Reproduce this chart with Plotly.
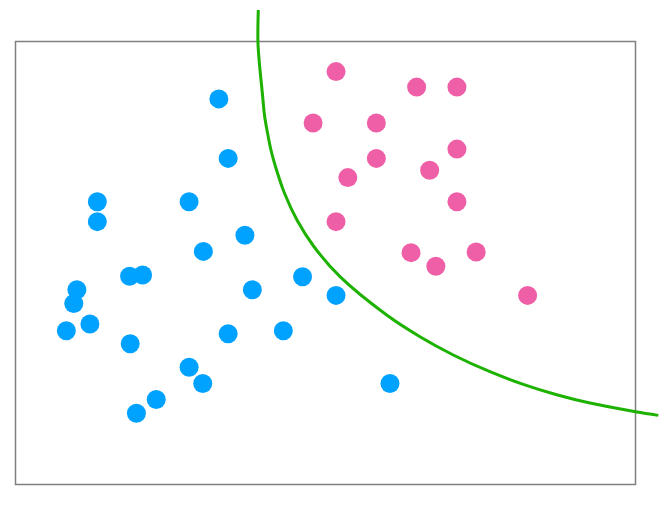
import plotly.graph_objects as go

# Blue class points
blue_x = [3.28, 3.43, 1.32, 2.80, 1.32, 3.70, 3.03, 1.84, 2.05, 0.99, 3.82, 4.63,
          0.94, 5.17, 1.20, 0.82, 3.43, 4.32, 1.85, 2.80, 3.02, 2.27, 1.95, 6.04]
blue_y = [6.22, 5.26, 4.56, 4.56, 4.24, 4.02, 3.76, 3.36, 3.38, 3.14, 3.14, 3.35,
          2.92, 3.05, 2.59, 2.48, 2.43, 2.48, 2.27, 1.89, 1.63, 1.37, 1.15, 1.63]

# Pink class points
pink_x = [5.17, 6.47, 7.12, 4.80, 5.82, 5.82, 7.12, 6.68, 5.36, 7.12, 5.17, 6.38,
          6.78, 7.43, 8.26]
pink_y = [6.66, 6.41, 6.41, 5.83, 5.83, 5.26, 5.41, 5.07, 4.95, 4.56, 4.24, 3.74,
          3.52, 3.75, 3.05]

# Decision boundary curve
curve_x = [3.916, 3.910, 3.932, 3.981, 4.018, 4.066, 4.124, 4.194, 4.339, 4.540,
           4.815, 5.234, 5.987, 6.524, 7.061, 7.653, 8.190, 8.729, 9.266, 10.003,
           10.368]
curve_y = [7.653, 7.142, 6.815, 6.315, 5.944, 5.665, 5.379, 5.126, 4.697, 4.266,
           3.835, 3.352, 2.734, 2.384, 2.089, 1.819, 1.615, 1.447, 1.313, 1.173,
           1.115]

# Frame extent
frame_x = [0, 10]
frame_y = [0, 7.145]

fig = go.Figure()
fig.add_trace(go.Scatter(x=curve_x, y=curve_y, mode="lines",
                         line=dict(color="#1DB100", width=3, shape="spline", smoothing=1.0),
                         hoverinfo="skip"))
fig.add_trace(go.Scatter(x=blue_x, y=blue_y, mode="markers",
                         marker=dict(color="#00A2FF", size=19, line=dict(width=0))))
fig.add_trace(go.Scatter(x=pink_x, y=pink_y, mode="markers",
                         marker=dict(color="#EF5FA7", size=19, line=dict(width=0))))

fig.add_shape(type="rect", x0=frame_x[0], x1=frame_x[1], y0=frame_y[0], y1=frame_y[1],
              line=dict(color="#808080", width=1.5), layer="below")

fig.update_layout(
    width=666, height=506,
    margin=dict(l=0, r=0, t=0, b=0),
    paper_bgcolor="white", plot_bgcolor="white",
    showlegend=False,
    xaxis=dict(range=[-0.25, 10.492], visible=False),
    yaxis=dict(range=[-0.347, 7.815], visible=False),
)

fig.write_html("out.html", config={"displayModeBar": False},
               post_script="document.body.style.margin='0px';")
